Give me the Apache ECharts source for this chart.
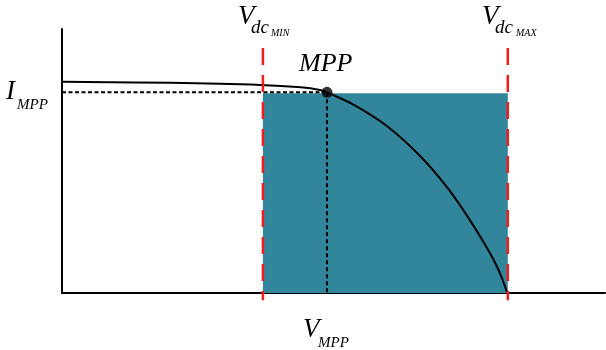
<!DOCTYPE html>
<html>
<head>
<meta charset="utf-8">
<script src="https://cdn.jsdelivr.net/npm/echarts@6/dist/echarts.min.js"></script>
<style>
  html, body { margin: 0; padding: 0; background: #fff; }
  #main { width: 606px; height: 350px; }
</style>
</head>
<body>
<div id="main"></div>
<script>
// I-V curve of the PV string (voltage, current), relative units
const ivCurve = [
	[0, 80.0], [20, 79.6], [36.5, 78.8], [44.0, 77.9], [47.5, 76.9], [48.8, 76.0],
	[54, 71.0], [60, 63.0], [66, 51.8], [71, 39.8], [75, 28.0],
	[78, 18.0], [79.5, 12.5], [80.8, 6.8], [82.0, 0]
]
const vdcMin = 37.0
const vdcMax = 82.1
const vMpp = 48.8
const iMpp = 76.0
const spcTop = 75.7
// red limit lines run a bit past the axis
const limitRange = [92.8, -2.7]

const font = (size) => 'italic ' + size + 'px "Liberation Serif", "DejaVu Serif", serif'

const txt = (text, x, y, size) => ({
	type: 'text',
	style: {
		text: text,
		x: x,
		y: y,
		font: font(size),
		fill: '#000',
		textAlign: 'left',
		textVerticalAlign: 'middle'
	}
})

const chart = echarts.init(document.getElementById('main'))
const option = {
	animation: false,
	grid: { left: 62, right: 1, top: 29, bottom: 57 },
	xAxis: {
		type: 'value', min: 0, max: 100,
		axisLine: { show: true, onZero: false, lineStyle: { color: '#000', width: 2 } },
		axisTick: { show: false }, axisLabel: { show: false }, splitLine: { show: false }
	},
	yAxis: {
		type: 'value', min: 0, max: 100,
		axisLine: { show: true, onZero: false, lineStyle: { color: '#000', width: 2 } },
		axisTick: { show: false }, axisLabel: { show: false }, splitLine: { show: false }
	},
	series: [
		{
			// SPC region
			type: 'line',
			data: [[vdcMin, spcTop], [vdcMax, spcTop]],
			symbol: 'none',
			lineStyle: { width: 0 },
			areaStyle: { color: '#31869b', opacity: 1, origin: 'start' },
			z: 1
		},
		{
			type: 'line',
			data: [[0, iMpp], [vMpp, iMpp]],
			symbol: 'none',
			lineStyle: { color: '#000', width: 2, type: [4, 2.5] },
			z: 2
		},
		{
			type: 'line',
			data: [[vMpp, iMpp], [vMpp, 0]],
			symbol: 'none',
			lineStyle: { color: '#000', width: 2, type: [4, 3] },
			z: 2
		},
		{
			type: 'line',
			data: ivCurve,
			smooth: 0.4,
			symbol: 'none',
			lineStyle: { color: '#000', width: 2 },
			z: 3
		},
		{
			type: 'line',
			data: [[vdcMin, limitRange[0]], [vdcMin, limitRange[1]]],
			clip: false,
			symbol: 'none',
			lineStyle: { color: '#f21c1c', width: 2.5, type: [17, 10] },
			z: 4
		},
		{
			type: 'line',
			data: [[vdcMax, limitRange[0]], [vdcMax, limitRange[1]]],
			clip: false,
			symbol: 'none',
			lineStyle: { color: '#f21c1c', width: 2.5, type: [17, 10] },
			z: 4
		},
		{
			type: 'scatter',
			data: [[vMpp, iMpp]],
			symbolSize: 11,
			itemStyle: { color: '#000' },
			z: 5
		}
	],
	graphic: [
		txt('V', 238, 17, 27), txt('dc', 251, 27.6, 19), txt('MIN', 271, 33, 10),
		txt('V', 482, 17, 27), txt('dc', 495, 27.6, 19), txt('MAX', 516, 33, 10),
		txt('MPP', 299, 64, 26),
		txt('I', 6, 92, 27), txt('MPP', 17, 105.5, 15),
		txt('SPC', 436, 115, 24),
		txt('V', 303, 330, 27), txt('MPP', 318, 343.5, 15)
	]
}
chart.setOption(option)
</script>
</body>
</html>
